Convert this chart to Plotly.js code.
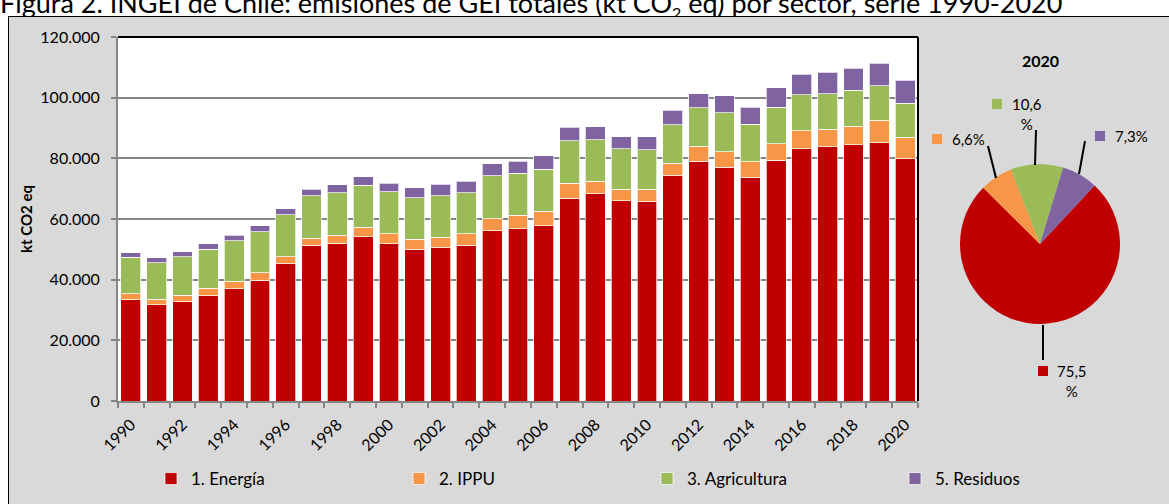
<!DOCTYPE html>
<html>
<head>
<meta charset="utf-8">
<script src="https://cdn.plot.ly/plotly-3.0.1.min.js"></script>
<style>
  html, body { margin: 0; padding: 0; background: #fff; overflow: hidden; width: 1169px; height: 504px; }
  #title { position: absolute; left: 0; top: -14px; font-family: Lato, "Liberation Sans", sans-serif; font-size: 27px; white-space: nowrap; color: #000; }
  #title sub { font-size: 16px; }
  #frame { position: absolute; left: 8px; top: 16px; width: 1170px; height: 500px; background: #d9d9d9; border: 1px solid #000; }
  #chart { position: absolute; left: 0; top: 0; width: 1169px; height: 504px; }
</style>
</head>
<body>
<div id="title">Figura 2. INGEI de Chile: emisiones de GEI totales (kt CO<sub>2</sub> eq) por sector, serie 1990-2020</div>
<div id="frame"></div>
<div id="chart"></div>
<script>
const W = 1169;
const H = 504;

const years = ["1990", "1991", "1992", "1993", "1994", "1995", "1996", "1997", "1998", "1999",
  "2000", "2001", "2002", "2003", "2004", "2005", "2006", "2007", "2008", "2009",
  "2010", "2011", "2012", "2013", "2014", "2015", "2016", "2017", "2018", "2019", "2020"];

const sectors = ["1. Energía", "2. IPPU", "3. Agricultura", "5. Residuos"];
const sectorColors = ["#c00000", "#f79646", "#9bbb59", "#8064a2"];

const energia = [33300, 31750, 32740, 34710, 37020, 39790, 45170, 51330, 51990, 54160,
  51860, 50010, 50540, 51430, 56140, 56800, 57790, 66920, 68340, 66030,
  65930, 74270, 79020, 77140, 73740, 79450, 83190, 83850, 84400, 85060, 79890];
const ippu = [1980, 1780, 2110, 2440, 2540, 2410, 2410, 2310, 2640, 3100,
  3200, 3300, 3430, 3630, 3960, 4420, 4750, 4850, 4090, 3860,
  3860, 4190, 4950, 5050, 5160, 5380, 5920, 5820, 6260, 7470, 7030];
const agricultura = [12100, 11970, 12630, 12860, 13190, 13610, 13750, 14040, 13950, 13950,
  13850, 13620, 13710, 13520, 14180, 13850, 13850, 13950, 13720, 13290,
  13060, 12630, 12630, 12870, 12310, 12090, 11880, 11650, 11760, 11320, 11210];
const residuos = [1520, 1650, 1650, 1750, 1880, 1980, 2080, 2210, 2640, 2640,
  2870, 3300, 3760, 3860, 3860, 3960, 4480, 4520, 4280, 3960,
  4290, 4750, 4720, 5590, 5600, 6370, 6810, 7030, 7360, 7580, 7690];

const series = [energia, ippu, agricultura, residuos];
const tickLabels = years.map((y, i) => (i % 2 === 0 ? y : ""));

// pixel -> paper helpers (margins are zero, so paper == page)
const px = (x) => x / W;
const py = (y) => 1 - y / H;

const FONT = "Lato, 'Liberation Sans', sans-serif";

const data = series.map((values, i) => ({
  type: "bar",
  name: sectors[i],
  x: years,
  y: values,
  marker: { color: sectorColors[i], line: { color: "rgba(255,255,255,0.7)", width: 1 } },
  hoverinfo: "skip"
}));

// pie for the last year
const last = series.map((values) => values[values.length - 1]);
const lastTotal = last.reduce((a, b) => a + b, 0);
const pct = last.map((v) => (100 * v / lastTotal).toFixed(1).replace(".", ","));

data.push({
  type: "pie",
  values: last,
  labels: sectors,
  sort: false,
  direction: "clockwise",
  rotation: 43,
  textinfo: "none",
  marker: { colors: sectorColors, line: { width: 0 } },
  domain: { x: [px(960), px(1120)], y: [py(324), py(164)] },
  showlegend: false,
  hoverinfo: "skip"
});

// pie label placement: square centre, text centre, leader line
const pieLabels = [
  { sq: [1043, 371], tx: [1072, 381], text: pct[0] + "<br>%", line: [1043, 325, 1043, 360] },
  { sq: [937, 139], tx: [968, 139], text: pct[1] + "%", line: [988, 146, 996, 178] },
  { sq: [997, 104], tx: [1027, 114], text: pct[2] + "<br>%", line: [1036, 130, 1035, 165] },
  { sq: [1100, 136], tx: [1131, 136], text: pct[3] + "%", line: [1085, 141, 1079, 174] }
];

const annotations = [
  {
    xref: "paper", yref: "paper", x: px(1040), y: py(60),
    xanchor: "center", yanchor: "middle",
    text: "<b>2020</b>", showarrow: false,
    font: { family: FONT, size: 16, color: "#000" }
  }
];
const shapes = [
  { type: "line", xref: "x domain", yref: "y domain", x0: 0, x1: 1, y0: 1, y1: 1, line: { color: "#000", width: 2 } },
  { type: "line", xref: "x domain", yref: "y domain", x0: 1, x1: 1, y0: 0, y1: 1, line: { color: "#000", width: 2 } }
];

pieLabels.forEach((lab, i) => {
  shapes.push({
    type: "rect", xref: "paper", yref: "paper",
    x0: px(lab.sq[0] - 5), x1: px(lab.sq[0] + 5), y0: py(lab.sq[1] + 5), y1: py(lab.sq[1] - 5),
    fillcolor: sectorColors[i], line: { width: 0 }
  });
  shapes.push({
    type: "line", xref: "paper", yref: "paper",
    x0: px(lab.line[0]), y0: py(lab.line[1]), x1: px(lab.line[2]), y1: py(lab.line[3]),
    line: { color: "#000", width: 2 }
  });
  annotations.push({
    xref: "paper", yref: "paper", x: px(lab.tx[0]), y: py(lab.tx[1]),
    xanchor: "center", yanchor: "middle",
    text: lab.text, showarrow: false, align: "center",
    font: { family: FONT, size: 15, color: "#000" }
  });
});

const layout = {
  width: W,
  height: H,
  margin: { t: 0, r: 0, b: 0, l: 0 },
  paper_bgcolor: "rgba(0,0,0,0)",
  plot_bgcolor: "#fff",
  separators: ",.",
  barmode: "stack",
  bargap: 0.23,
  font: { family: FONT, size: 16, color: "#000" },
  xaxis: {
    domain: [px(118), px(918)],
    type: "category",
    tickmode: "array",
    tickvals: years,
    ticktext: tickLabels,
    tickangle: -45,
    tickson: "boundaries",
    ticks: "outside",
    ticklen: 5,
    tickcolor: "#868686",
    tickwidth: 2,
    ticklabelstandoff: 6,
    showline: true,
    linecolor: "#868686",
    linewidth: 2,
    showgrid: false,
    automargin: false,
    tickfont: { family: FONT, size: 16, color: "#000" }
  },
  yaxis: {
    domain: [py(401), py(37)],
    range: [0, 120000],
    dtick: 20000,
    tickformat: ",d",
    ticks: "outside",
    ticklen: 5,
    tickcolor: "#868686",
    tickwidth: 2,
    ticklabelstandoff: 8,
    showline: true,
    linecolor: "#868686",
    linewidth: 2,
    gridcolor: "#868686",
    gridwidth: 2,
    zeroline: false,
    automargin: false,
    tickfont: { family: FONT, size: 16, color: "#000" },
    title: { text: "<b>kt CO2 eq</b>", font: { family: FONT, size: 15, color: "#000" }, standoff: 4 }
  },
  legend: {
    orientation: "h",
    x: px(151),
    y: py(461),
    xanchor: "left",
    yanchor: "top",
    entrywidth: 203,
    entrywidthmode: "pixels",
    traceorder: "normal",
    bgcolor: "rgba(0,0,0,0)",
    font: { family: FONT, size: 17, color: "#000" }
  },
  shapes: shapes,
  annotations: annotations
};

Plotly.newPlot("chart", data, layout, { displayModeBar: false, staticPlot: true });
</script>
</body>
</html>
